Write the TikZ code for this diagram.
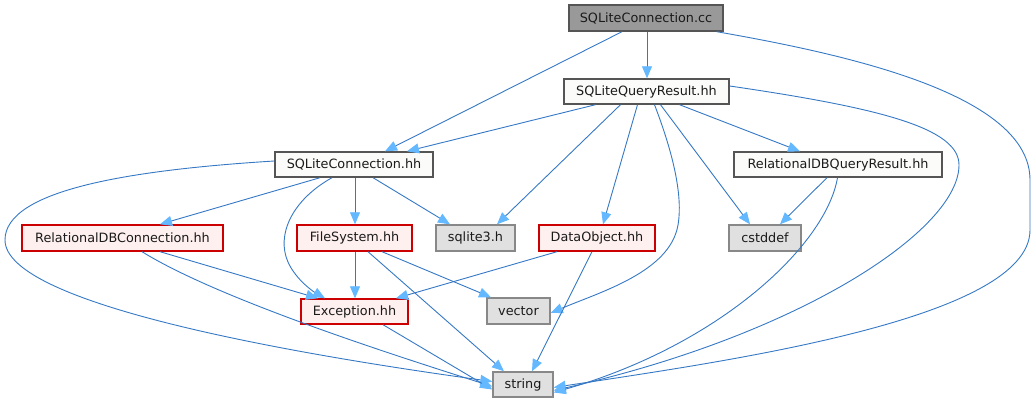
\documentclass[tikz,border=0pt]{standalone}
\usepackage{fontspec}
\setmainfont{DejaVu Sans}
\usetikzlibrary{arrows.meta}
\definecolor{edgec}{HTML}{3578C4}
\definecolor{arrc}{HTML}{63B8FF}
\definecolor{rootfill}{HTML}{999999}
\definecolor{greyforty}{HTML}{555555}
\definecolor{redfill}{HTML}{FFF0F0}
\definecolor{redline}{HTML}{CC0000}
\definecolor{sysfill}{HTML}{E0E0E0}
\definecolor{sysline}{HTML}{888888}
\definecolor{plainfill}{HTML}{FBFCF9}
\definecolor{txt}{HTML}{1A1A1A}
\tikzset{
  box/.style={rectangle, inner sep=0pt, line width=1.4pt, text=txt,
    font=\fontsize{12.8}{15}\selectfont, anchor=center},
  rootbox/.style={box, draw=greyforty, fill=rootfill},
  plainbox/.style={box, draw=greyforty, fill=plainfill},
  redbox/.style={box, draw=redline, fill=redfill},
  sysbox/.style={box, draw=sysline, fill=sysfill},
  edge/.style={draw=edgec, line width=0.9pt,
    -{Triangle[length=12pt,width=10pt,fill=arrc,color=arrc]}},
}
\begin{document}
\begin{tikzpicture}[x=1pt,y=-1pt]
\useasboundingbox (0,0) rectangle (1036,403);
% nodes
\node[rootbox, minimum width=154pt, minimum height=26pt] (cc) at (646,18) {SQLiteConnection.cc};
\node[plainbox, minimum width=165pt, minimum height=25pt] (qr) at (646.5,91.5) {SQLiteQueryResult.hh};
\node[plainbox, minimum width=158pt, minimum height=25pt] (sch) at (354,164.5) {SQLiteConnection.hh};
\node[plainbox, minimum width=208pt, minimum height=25pt] (rdq) at (838,164.5) {RelationalDBQueryResult.hh};
\node[redbox, minimum width=201pt, minimum height=26pt] (rdc) at (122.5,238) {RelationalDBConnection.hh};
\node[redbox, minimum width=115pt, minimum height=26pt] (fs) at (354.5,238) {FileSystem.hh};
\node[sysbox, minimum width=79pt, minimum height=26pt] (sq3) at (475.5,238) {sqlite3.h};
\node[redbox, minimum width=116pt, minimum height=26pt] (dob) at (597,238) {DataObject.hh};
\node[sysbox, minimum width=72pt, minimum height=26pt] (cst) at (765,238) {cstddef};
\node[redbox, minimum width=107pt, minimum height=25pt] (exc) at (354.5,311.5) {Exception.hh};
\node[sysbox, minimum width=63pt, minimum height=26pt] (vec) at (518.5,311) {vector};
\node[sysbox, minimum width=60pt, minimum height=25pt] (str) at (523,384.5) {string};
% edges from SQLiteConnection.cc
\draw[edge] ([xshift=1pt]cc.south) -- ([xshift=0.5pt]qr.north);
\draw[edge] ([xshift=-24pt]cc.south) -- ([xshift=31pt]sch.north);
\draw[edge] ([xshift=-7pt]cc.south east) .. controls (850,55) and (1030,95) .. (1030,180)
   -- (1030,230) .. controls (1030,320) and (720,362) .. ([yshift=-3pt]str.east);
% edges from SQLiteQueryResult.hh
\draw[edge] ([xshift=-51pt]qr.south) -- ([xshift=53pt]sch.north);
\draw[edge] ([xshift=-26pt]qr.south) -- ([xshift=21.5pt]sq3.north);
\draw[edge] ([xshift=-9pt]qr.south) -- ([xshift=6pt]dob.north);
\draw[edge] ([xshift=8pt]qr.south) .. controls (668,140) and (684,190) .. (678,225)
   .. controls (670,272) and (600,292) .. ([yshift=-2pt]vec.east);
\draw[edge] ([xshift=14pt]qr.south) -- ([xshift=-15pt]cst.north);
\draw[edge] ([xshift=33pt]qr.south) -- ([xshift=-38pt]rdq.north);
\draw[edge] ([yshift=5.5pt]qr.east) .. controls (880,108) and (959,128) .. (959,165)
   .. controls (959,230) and (800,335) .. ([yshift=-6pt]str.east);
% edges from SQLiteConnection.hh
\draw[edge] ([xshift=-34pt]sch.south) -- ([xshift=37.5pt]rdc.north);
\draw[edge] ([xshift=1pt]sch.south) -- ([xshift=0.5pt]fs.north);
\draw[edge] ([xshift=19pt]sch.south) -- ([xshift=-25.5pt]sq3.north);
\draw[edge] ([xshift=-22pt]sch.south) .. controls (292,200) and (276,235) .. (288,262)
   .. controls (296,280) and (314,292) .. ([xshift=-29.5pt]exc.north);
\draw[edge] ([yshift=3.5pt]sch.west) .. controls (130,170) and (5,190) .. (5,240)
   .. controls (5,305) and (300,355) .. ([yshift=3pt]str.west);
% RelationalDBConnection.hh
\draw[edge] ([xshift=37.5pt]rdc.south) -- ([xshift=-36.5pt]exc.north);
\draw[edge] ([xshift=19.5pt]rdc.south) .. controls (220,300) and (400,357) .. ([yshift=-2pt]str.west);
% FileSystem.hh
\draw[edge] ([xshift=0.5pt]fs.south) -- ([xshift=0.5pt]exc.north);
\draw[edge] ([xshift=27.5pt]fs.south) -- ([xshift=-27.5pt]vec.north);
\draw[edge] ([xshift=13.5pt]fs.south) -- ([xshift=-19pt]str.north);
% DataObject.hh
\draw[edge] ([xshift=-40pt]dob.south) -- ([xshift=41.5pt]exc.north);
\draw[edge] ([xshift=-5pt]dob.south) -- ([xshift=9pt]str.north);
% Exception.hh
\draw[edge] ([xshift=28.5pt]exc.south) -- ([yshift=-5pt]str.west);
% RelationalDBQueryResult.hh
\draw[edge] ([xshift=-11pt]rdq.south) -- ([xshift=15pt]cst.north);
\draw[edge] ([xshift=-0.5pt]rdq.south) .. controls (826,245) and (720,345) .. ([yshift=-8pt]str.east);
\end{tikzpicture}
\end{document}
